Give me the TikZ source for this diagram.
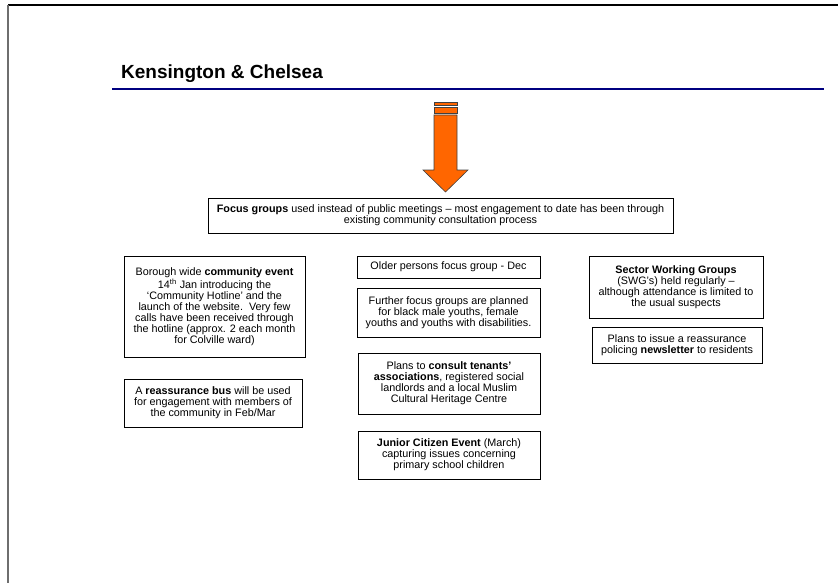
\documentclass[tikz,border=0pt]{standalone}
\usepackage{fontspec}
\setmainfont{Liberation Sans}
\usepackage{xcolor}
\usetikzlibrary{calc}
\definecolor{boroughnavy}{RGB}{0,0,128}
\definecolor{signalorange}{RGB}{255,102,0}
\definecolor{framegray}{RGB}{110,110,110}

\begin{document}
\begin{tikzpicture}[x=1pt, y=-1pt,
    infobox/.style={draw=black, line width=0.8pt, align=center, inner sep=2pt,
        font=\fontsize{10.8}{11}\selectfont},
    stripe/.style={fill=signalorange, draw=black!75, line width=0.6pt}]
    \useasboundingbox (0,0) rectangle (838,583);

    % Page frame
    \draw[black, line width=1.2pt] (8,5) -- (838,5);
    \draw[framegray, line width=1.2pt] (8,5) -- (8,583);

    % Borough heading and rule
    \node[anchor=base west, inner sep=0pt, font=\fontsize{19}{19}\selectfont\bfseries] (heading) at (121,79) {Kensington \& Chelsea};
    \draw[boroughnavy, line width=2pt] (112,89) -- (824,89);

    % Main finding
    \node[infobox, minimum width=465pt, minimum height=35pt] (focus) at (440.5,215.5)
        {\textbf{Focus groups} used instead of public meetings – most engagement to date has been through\\existing community consultation process};

    % Block arrow into the main finding
    \coordinate (arrowtip) at (445.5,192);
    \draw[stripe] ($(arrowtip)+(-11.5,-90)$) rectangle ($(arrowtip)+(11.5,-87)$);
    \draw[stripe] ($(arrowtip)+(-11.5,-85)$) rectangle ($(arrowtip)+(11.5,-79)$);
    \draw[stripe] (arrowtip) -- ++(-22.5,-22) -- ++(11,0) -- ++(0,-55) -- ++(23,0)
        -- ++(0,55) -- ++(11,0) -- cycle;

    % Left column
    \node[infobox, minimum width=181pt, minimum height=101pt] (borough) at (214.5,306.5)
        {Borough wide \textbf{community event}\\14\textsuperscript{th} Jan introducing the\\‘Community Hotline’ and the\\launch of the website.\ \ Very few\\calls have been received through\\the hotline (approx. 2 each month\\for Colville ward)};
    \node[infobox, minimum width=178pt, minimum height=48pt] (bus) at (213,403)
        {A \textbf{reassurance bus} will be used\\for engagement with members of\\the community in Feb/Mar};

    % Middle column
    \node[infobox, minimum width=183pt, minimum height=22pt] (older) at (448.5,267)
        {Older persons focus group - Dec};
    \node[infobox, minimum width=183pt, minimum height=49pt] (further) at (448.5,312.5)
        {Further focus groups are planned\\for black male youths, female\\youths and youths with disabilities.};
    \node[infobox, minimum width=182pt, minimum height=61pt] (tenants) at (449,383.5)
        {Plans to \textbf{consult tenants’}\\\textbf{associations}, registered social\\landlords and a local Muslim\\Cultural Heritage Centre};
    \node[infobox, minimum width=182pt, minimum height=48pt] (junior) at (449,455)
        {\textbf{Junior Citizen Event} (March)\\capturing issues concerning\\primary school children};

    % Right column
    \node[infobox, minimum width=174pt, minimum height=62pt] (sectors) at (676,287)
        {\textbf{Sector Working Groups}\\(SWG’s) held regularly –\\although attendance is limited to\\the usual suspects};
    \node[infobox, minimum width=170pt, minimum height=36pt] (newsletter) at (677,345)
        {Plans to issue a reassurance\\policing \textbf{newsletter} to residents};
\end{tikzpicture}
\end{document}
